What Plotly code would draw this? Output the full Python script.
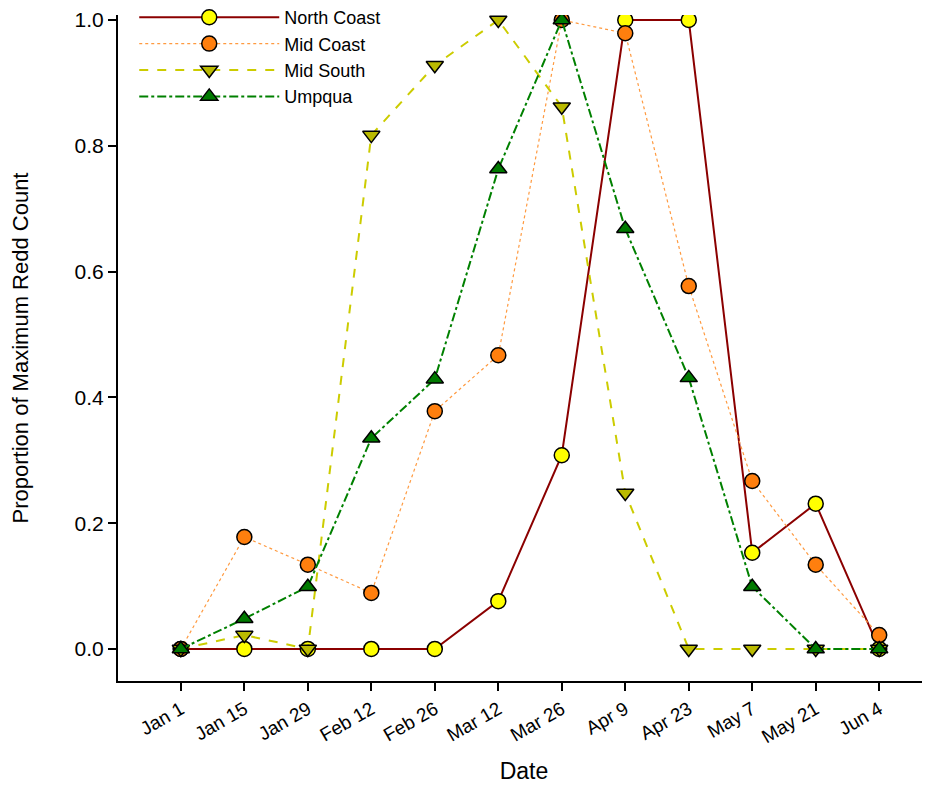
import plotly.graph_objects as go

dates = ["Jan 1", "Jan 15", "Jan 29", "Feb 12", "Feb 26", "Mar 12",
         "Mar 26", "Apr 9", "Apr 23", "May 7", "May 21", "Jun 4"]
north_coast = [0, 0, 0, 0, 0, 0.076, 0.308, 1.0, 1.0, 0.153, 0.231, 0]
mid_coast = [0, 0.178, 0.134, 0.089, 0.378, 0.467, 1.0, 0.979, 0.577, 0.267, 0.134, 0.022]
mid_south = [0, 0.022, 0, 0.817, 0.928, 1.0, 0.862, 0.248, 0, 0, 0, 0]
umpqua = [0, 0.048, 0.099, 0.335, 0.429, 0.763, 1.0, 0.668, 0.431, 0.099, 0, 0]

xi = list(range(len(dates)))

fig = go.Figure()
series = [
    ("North Coast", north_coast, "#8B0000", "solid", 2, "circle", "#FFFF00"),
    ("Mid Coast", mid_coast, "#FF9A40", "dot", 1.2, "circle", "#FF7F0E"),
    ("Mid South", mid_south, "#CCCC00", "dash", 2, "triangle-down", "#BABA00"),
    ("Umpqua", umpqua, "#008000", "dashdot", 2, "triangle-up", "#007A00"),
]
for name, vals, lc, dash, lw, sym, mc in series:
    fig.add_trace(go.Scatter(
        x=xi, y=vals, name=name, mode="lines+markers",
        line=dict(color=lc, dash=dash, width=lw),
        marker=dict(symbol=sym, size=15, color=mc, line=dict(color="black", width=1.5)),
    ))

# page body has an 8px margin; compensate so plot area spans x 118..930, y 15..681
fig.update_layout(
    width=922, height=779,
    margin=dict(l=110, r=0, t=7, b=106, autoexpand=False),
    plot_bgcolor="white", paper_bgcolor="white",
    font=dict(family="Liberation Sans, Arial, sans-serif", color="black"),
    showlegend=True,
    legend=dict(x=0.02, y=1.024, xanchor="left", yanchor="top",
                font=dict(size=18), bgcolor="rgba(0,0,0,0)",
                itemwidth=140, tracegroupgap=0),
)
fig.update_xaxes(
    range=[-0.99, 11.8], tickmode="array", tickvals=xi, ticktext=dates,
    tickangle=-30, ticks="outside", ticklen=8, tickwidth=2, tickcolor="black",
    showline=True, linecolor="black", linewidth=2, showgrid=False, zeroline=False,
    tickfont=dict(size=19), automargin=False,
    title=dict(text="Date", font=dict(size=23), standoff=17),
)
fig.update_yaxes(
    range=[-0.051, 1.008], tickmode="array",
    tickvals=[0, 0.2, 0.4, 0.6, 0.8, 1.0],
    ticktext=["0.0", "0.2", "0.4", "0.6", "0.8", "1.0"],
    ticks="outside", ticklen=8, tickwidth=2, tickcolor="black",
    showline=True, linecolor="black", linewidth=2, showgrid=False, zeroline=False,
    tickfont=dict(size=21), automargin=False,
    title=dict(text="Proportion of Maximum Redd Count", font=dict(size=22), standoff=40),
)

fig.write_html("out.html")
